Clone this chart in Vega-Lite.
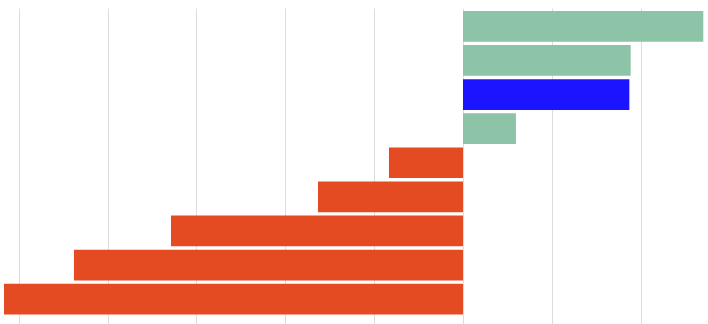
{
  "$schema": "https://vega.github.io/schema/vega-lite/v6.json",
  "width": 708,
  "height": 316,
  "autosize": {"type": "none"},
  "padding": {"left": 0, "top": 8, "right": 0, "bottom": 0},
  "background": "white",
  "config": {"view": {"stroke": null}},
  "data": {
    "values": [
      {"item": "A", "value": 2.704, "group": "pos"},
      {"item": "B", "value": 1.887, "group": "pos"},
      {"item": "C", "value": 1.872, "group": "highlight"},
      {"item": "D", "value": 0.596, "group": "pos"},
      {"item": "E", "value": -0.833, "group": "neg"},
      {"item": "F", "value": -1.632, "group": "neg"},
      {"item": "G", "value": -3.286, "group": "neg"},
      {"item": "H", "value": -4.378, "group": "neg"},
      {"item": "I", "value": -5.165, "group": "neg"}
    ]
  },
  "mark": {"type": "bar"},
  "encoding": {
    "y": {
      "field": "item",
      "type": "nominal",
      "sort": null,
      "scale": {"paddingInner": 0.1, "paddingOuter": 0.183, "align": 0.24},
      "axis": null
    },
    "x": {
      "field": "value",
      "type": "quantitative",
      "scale": {"domain": [-5.21, 2.757], "nice": false, "zero": false},
      "axis": {
        "values": [-5, -4, -3, -2, -1, 0, 1, 2],
        "labels": false,
        "ticks": false,
        "domain": false,
        "title": null,
        "grid": true,
        "gridColor": "#dddddd",
        "gridWidth": 1
      }
    },
    "color": {
      "field": "group",
      "type": "nominal",
      "scale": {
        "domain": ["pos", "highlight", "neg"],
        "range": ["#8DC4A8", "#1C14FF", "#E44B22"]
      },
      "legend": null
    }
  }
}
